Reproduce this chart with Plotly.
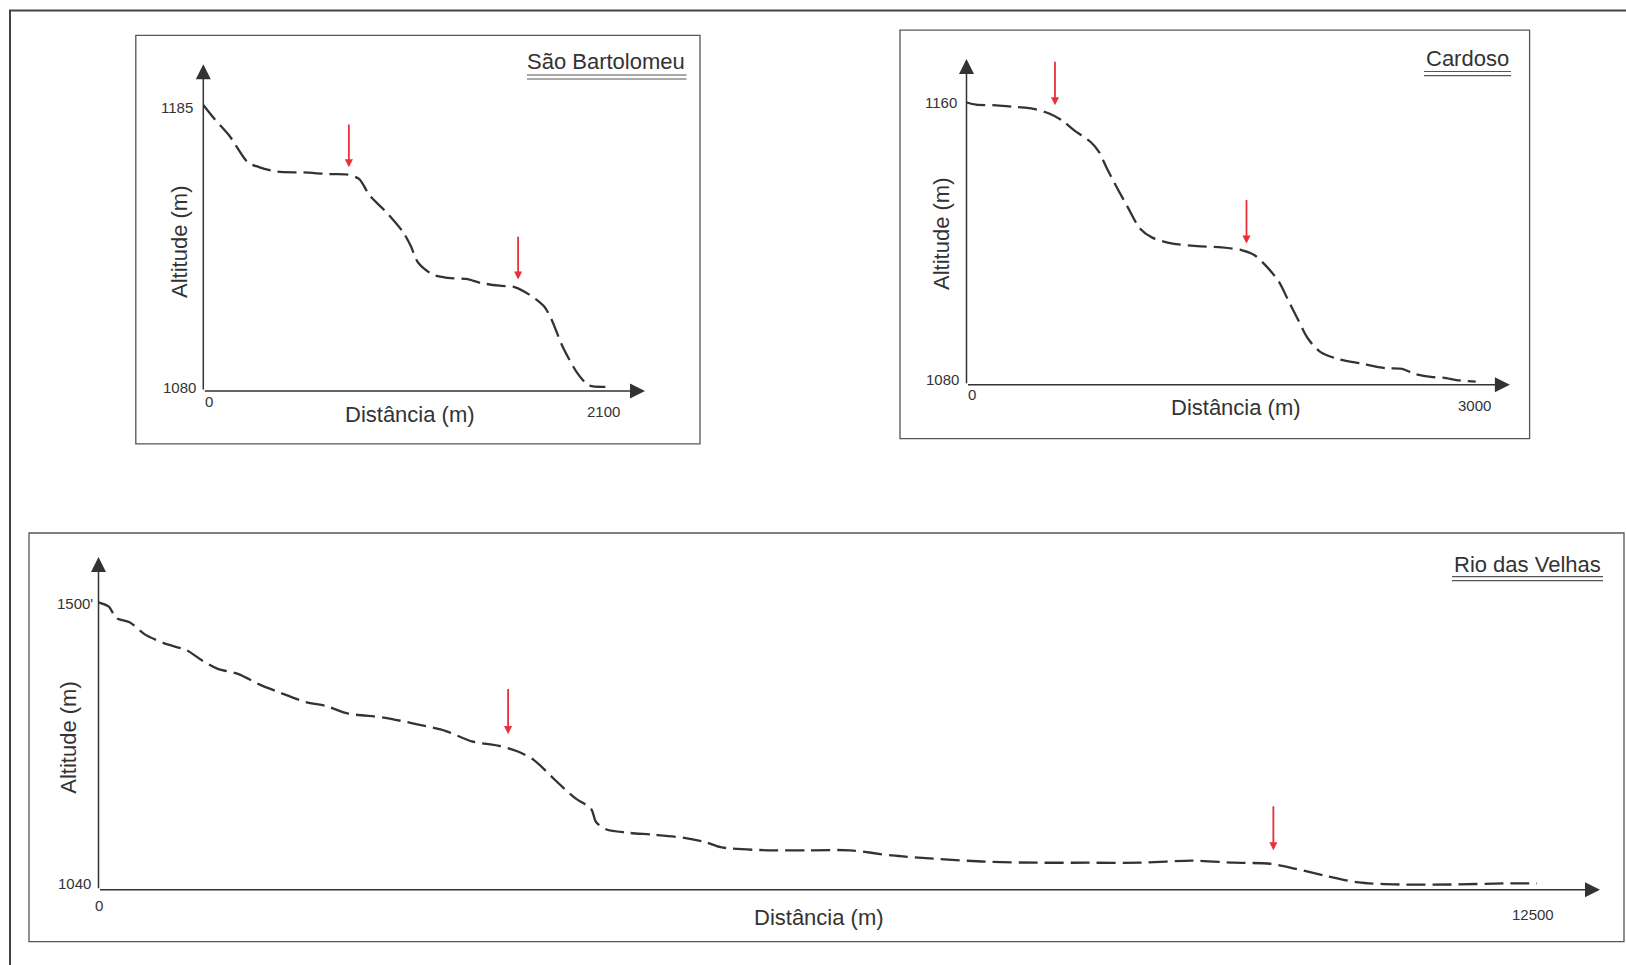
import plotly.graph_objects as go

W, H = 1626, 965

# ---------------- data ----------------
sb_dist = [0, 58, 136, 233, 292, 389, 525, 661, 758, 817, 875, 953, 1050, 1089, 1128,
           1205, 1283, 1380, 1458, 1555, 1633, 1711, 1789, 1828, 1886, 1964, 2022, 2110]
sb_alt = [1186, 1180.9, 1174.7, 1164.8, 1163, 1161.3, 1161.0, 1160.4, 1160.2, 1158.6,
          1152.3, 1146.8, 1138.7, 1133.7, 1127.5, 1123.1, 1121.9, 1121.5, 1120.0, 1119.0,
          1118.5, 1115.7, 1111.3, 1106.4, 1096.4, 1086.5, 1082.1, 1081.5]
sb_knick_x = [764, 1652]
sb_knick_top = [1179.3, 1137.7]
sb_knick_tip = [1162.9, 1121.3]

ca_dist = [0, 56, 177, 298, 395, 492, 565, 637, 734, 783, 831, 892, 952, 1025, 1098, 1219,
           1364, 1509, 1630, 1703, 1776, 1848, 1897, 1957, 2018, 2091, 2188, 2333, 2476,
           2575, 2647, 2744, 2817, 2914, 3010]
ca_alt = [1160, 1159.4, 1159.2, 1158.7, 1158.2, 1156.8, 1154.9, 1152.1, 1148.8, 1146.0,
          1141.2, 1135.6, 1130.4, 1124.3, 1121.7, 1120.0, 1119.3, 1118.9, 1118.1, 1116.7,
          1113.4, 1109.1, 1104.4, 1098.7, 1093.1, 1089.3, 1087.4, 1086.0, 1084.7, 1084.5,
          1083.1, 1082.2, 1082.0, 1081.2, 1080.9]
ca_knick_x = [523, 1655]
ca_knick_top = [1172, 1132.8]
ca_knick_tip = [1159.2, 1120]

rv_dist = [0, 90, 154, 271, 407, 588, 768, 904, 1040, 1220, 1401, 1582, 1808, 1989, 2170,
           2486, 2757, 3028, 3254, 3480, 3661, 3796, 3977, 4158, 4293, 4338, 4429, 4609,
           4835, 5106, 5287, 5423, 5830, 6191, 6553, 6914, 7276, 7728, 8180, 8632, 9084,
           9536, 9897, 10213, 10439, 10711, 10982, 11343, 11795, 12247, 12537]
rv_alt = [1502, 1494.9, 1476.1, 1469.3, 1448.9, 1433.6, 1423.3, 1406.3, 1392.7, 1384.1,
          1367.1, 1353.5, 1338.1, 1331.3, 1319.4, 1312.6, 1302.4, 1290.4, 1273.4, 1266.6,
          1256.4, 1242.7, 1210.4, 1179.7, 1162.7, 1140.5, 1128.6, 1123.5, 1120.1, 1115.0,
          1108.1, 1099.6, 1094.5, 1094.5, 1094.5, 1086.0, 1080.9, 1075.8, 1074.1, 1074.1,
          1074.1, 1077.5, 1074.1, 1072.4, 1063.9, 1051.9, 1041.7, 1038.3, 1038.3, 1040, 1040]
rv_knick_x = [3570, 10240]
rv_knick_top = [1362, 1169.5]
rv_knick_tip = [1285.3, 1094.5]

titles = ["São Bartolomeu", "Cardoso", "Rio das Velhas"]
x_labels = [["0", "2100"], ["0", "3000"], ["0", "12500"]]
x_label_vals = [[0, 2100], [0, 3000], [0, 12500]]
y_labels = [["1080", "1185"], ["1080", "1160"], ["1040", "1500'"]]
y_label_vals = [[1080, 1185], [1080, 1160], [1040, 1500]]

# ---------------- layout helpers ----------------
def px(x):
    return x / W

def py(y):
    return 1 - y / H

FONT = "Liberation Sans, Arial, sans-serif"
INK = "#333333"
RED = "#e8313a"

panels = [
    dict(dist=sb_dist, alt=sb_alt, kx=sb_knick_x, kt=sb_knick_top, kp=sb_knick_tip,
         xdom=(203.3, 645), ydom=(390.9, 64.3), xr=(0, 2318), yr=(1080, 1201.1),
         box=(135.8, 35.3, 700, 443.8), title_xy=(686.5, 62), ul=(527, 686.5, 75, 79),
         xtitle=(409.6, 414.8), ytitle=(179.4, 241.6),
         ylab_shift=[(-5, 3), (-8, 0)], xlab_shift=[(6, -11), (0, -21)]),
    dict(dist=ca_dist, alt=ca_alt, kx=ca_knick_x, kt=ca_knick_top, kp=ca_knick_tip,
         xdom=(966.5, 1509.9), ydom=(384.7, 59.1), xr=(0, 3212), yr=(1080, 1172.3),
         box=(900, 30.1, 1529.6, 438.7), title_xy=(1511, 59), ul=(1424, 1511, 71.5, 75.7),
         xtitle=(1236, 407.5), ytitle=(941.6, 234.4),
         ylab_shift=[(-6, 5), (-8, 0)], xlab_shift=[(5, -10), (0, -21)]),
    dict(dist=rv_dist, alt=rv_alt, kx=rv_knick_x, kt=rv_knick_top, kp=rv_knick_tip,
         xdom=(98.5, 1600), ydom=(889.8, 556.9), xr=(0, 13087), yr=(1029.6, 1576.6),
         box=(29, 533, 1624, 941.6), title_xy=(1603, 564), ul=(1452, 1603, 576.6, 580.7),
         xtitle=(819, 917.7), ytitle=(68.4, 737.3),
         ylab_shift=[(-6, 0), (-4, 0)], xlab_shift=[(0, -15.5), (0, -25)]),
]

fig = go.Figure()
shapes = []
annotations = []

# outer frame
shapes.append(dict(type="rect", xref="paper", yref="paper",
                   x0=px(10), x1=px(1660), y0=py(1000), y1=py(10.5),
                   line=dict(color="#444444", width=2)))

for i, p in enumerate(panels):
    n = "" if i == 0 else str(i + 1)
    xa, ya = "x" + n, "y" + n
    fig.add_trace(go.Scatter(
        x=p["dist"], y=p["alt"], mode="lines", xaxis=xa, yaxis=ya,
        line=dict(color=INK, width=2.3, dash="19px,7px", shape="spline", smoothing=0.8),
        hoverinfo="skip", showlegend=False))
    axis_common = dict(visible=False, showgrid=False, zeroline=False, fixedrange=True)
    fig.layout["xaxis" + n] = dict(axis_common, domain=[px(p["xdom"][0]), px(p["xdom"][1])],
                                   range=list(p["xr"]), anchor=ya)
    fig.layout["yaxis" + n] = dict(axis_common, domain=[py(p["ydom"][0]), py(p["ydom"][1])],
                                   range=list(p["yr"]), anchor=xa)

    x0, x1 = p["xr"]
    y0, y1 = p["yr"]
    # axes with arrowheads
    for (hx, hy) in [(x1, y0), (x0, y1)]:
        annotations.append(dict(xref=xa, yref=ya, axref=xa, ayref=ya,
                                x=hx, y=hy, ax=x0, ay=y0, text="", showarrow=True,
                                arrowhead=2, arrowsize=2.0, arrowwidth=1.5,
                                arrowcolor=INK, standoff=0, startstandoff=0))
    # knickpoint arrows
    for kx, kt, kp in zip(p["kx"], p["kt"], p["kp"]):
        annotations.append(dict(xref=xa, yref=ya, axref=xa, ayref=ya,
                                x=kx, y=kp, ax=kx, ay=kt, text="", showarrow=True,
                                arrowhead=2, arrowsize=0.9, arrowwidth=1.8,
                                arrowcolor=RED, standoff=0))
    # tick labels
    for lab, val, (xs, ys) in zip(y_labels[i], y_label_vals[i], p["ylab_shift"]):
        annotations.append(dict(xref=xa, yref=ya, x=0, y=val, text=lab, showarrow=False,
                                xanchor="right", yanchor="middle", xshift=xs, yshift=ys,
                                font=dict(family=FONT, size=15, color=INK)))
    for lab, val, (xs, ys) in zip(x_labels[i], x_label_vals[i], p["xlab_shift"]):
        annotations.append(dict(xref=xa, yref=ya, x=val, y=y0, text=lab, showarrow=False,
                                xanchor="center", yanchor="middle", xshift=xs, yshift=ys,
                                font=dict(family=FONT, size=15, color=INK)))
    # axis titles
    annotations.append(dict(xref="paper", yref="paper", x=px(p["xtitle"][0]), y=py(p["xtitle"][1]),
                            text="Distância (m)", showarrow=False, xanchor="center", yanchor="middle",
                            font=dict(family=FONT, size=22, color=INK)))
    annotations.append(dict(xref="paper", yref="paper", x=px(p["ytitle"][0]), y=py(p["ytitle"][1]),
                            text="Altitude (m)", showarrow=False, xanchor="center", yanchor="middle",
                            textangle=-90, font=dict(family=FONT, size=22, color=INK)))
    # panel title
    annotations.append(dict(xref="paper", yref="paper", x=px(p["title_xy"][0]), y=py(p["title_xy"][1]),
                            text=titles[i], showarrow=False, xanchor="right", yanchor="middle",
                            font=dict(family=FONT, size=22, color=INK)))
    # box
    bx0, by0, bx1, by1 = p["box"]
    shapes.append(dict(type="rect", xref="paper", yref="paper",
                       x0=px(bx0), x1=px(bx1), y0=py(by1), y1=py(by0),
                       line=dict(color="#555555", width=1.3)))
    # double underline
    ux0, ux1, uy0, uy1 = p["ul"]
    for uy in (uy0, uy1):
        shapes.append(dict(type="line", xref="paper", yref="paper",
                           x0=px(ux0), x1=px(ux1), y0=py(uy), y1=py(uy),
                           line=dict(color="#555555", width=1.2)))

fig.update_layout(width=W, height=H, autosize=False,
                  margin=dict(l=0, r=0, t=0, b=0, pad=0),
                  paper_bgcolor="white", plot_bgcolor="white",
                  shapes=shapes, annotations=annotations, showlegend=False)

fig.write_html("out.html", config={"displayModeBar": False, "staticPlot": True},
               post_script="document.body.style.margin='0';document.body.style.overflow='hidden';")
